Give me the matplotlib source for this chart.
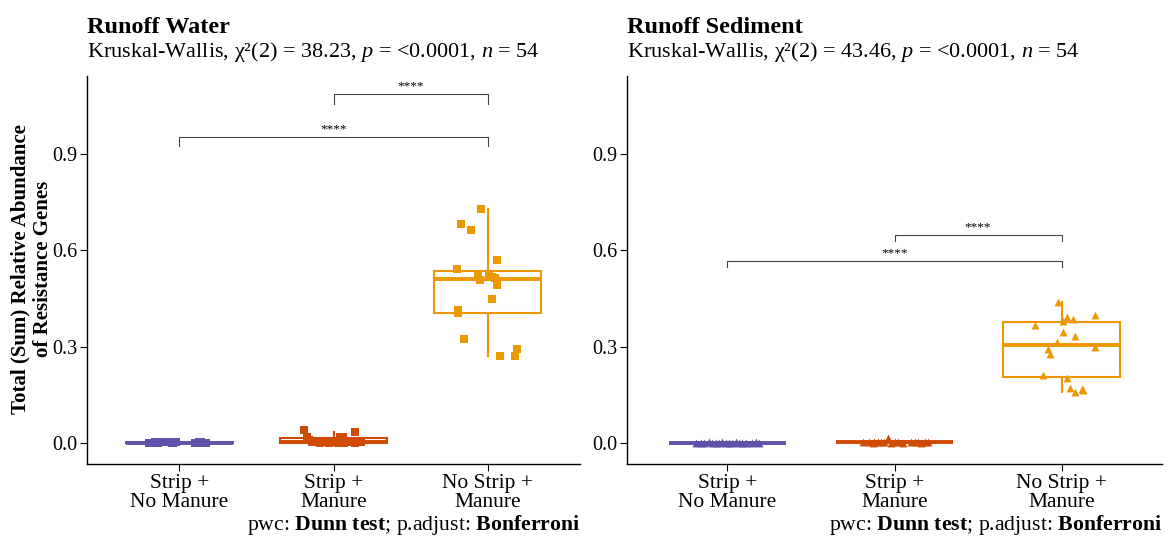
import numpy as np
import matplotlib
matplotlib.use("Agg")
from matplotlib import pyplot as plt

plt.rcParams["font.family"] = ["Liberation Serif", "DejaVu Serif"]
plt.rcParams["mathtext.fontset"] = "custom"
plt.rcParams["mathtext.rm"] = "Liberation Serif"
plt.rcParams["mathtext.it"] = "Liberation Serif:italic"
plt.rcParams["mathtext.bf"] = "Liberation Serif:bold"

groups = ["Strip +\nNo Manure", "Strip +\nManure", "No Strip +\nManure"]
colors = ["#6151a8", "#cf4a02", "#ec9800"]

# Runoff water, 18 samples per group
water_strip_nomanure = [0.000, 0.001, 0.002, 0.001, 0.003, 0.004, 0.002, 0.005, 0.001, 0.000,
                        0.002, 0.000, 0.001, 0.003, 0.002, 0.001, 0.000, 0.002]
water_strip_manure = [0.040, 0.035, 0.019, 0.018, 0.018, 0.010, 0.005, 0.004, 0.003, 0.003,
                      0.002, 0.002, 0.002, 0.001, 0.001, 0.001, 0.000, 0.000]
water_nostrip_manure = [0.730, 0.682, 0.662, 0.569, 0.541, 0.525, 0.520, 0.518, 0.515, 0.508,
                        0.492, 0.449, 0.414, 0.404, 0.324, 0.292, 0.271, 0.271]

# Runoff sediment
sed_strip_nomanure = [0.000, 0.001, 0.000, 0.002, 0.001, 0.000, 0.001, 0.002, 0.000, 0.001,
                      0.000, 0.002, 0.001, 0.000, 0.001, 0.000, 0.002, 0.001]
sed_strip_manure = [0.002, 0.004, 0.003, 0.015, 0.005, 0.002, 0.004, 0.001, 0.003, 0.002,
                    0.001, 0.003, 0.002, 0.004, 0.001, 0.002, 0.003, 0.001]
sed_nostrip_manure = [0.440, 0.393, 0.388, 0.400, 0.381, 0.367, 0.345, 0.334, 0.315, 0.298,
                      0.294, 0.278, 0.213, 0.203, 0.172, 0.160, 0.170, 0.165]

# horizontal jitter (category units)
jit_w1 = [-0.20, -0.19, -0.16, -0.14, -0.12, -0.10, -0.08, -0.07, -0.05, -0.04,
          -0.02, 0.10, 0.12, 0.13, 0.14, 0.15, 0.17, -0.11]
jit_w2 = [-0.19, 0.14, 0.06, 0.04, -0.17, -0.16, 0.12, 0.15, -0.14, -0.11,
          -0.06, -0.01, 0.18, -0.09, 0.07, 0.14, -0.03, 0.03]
jit_w3 = [-0.04, -0.17, -0.11, 0.06, -0.20, -0.06, 0.01, 0.03, 0.05, -0.05,
          0.06, 0.03, -0.19, -0.19, -0.15, 0.19, 0.08, 0.18]
jit_s1 = [-0.19, -0.16, -0.14, -0.11, -0.09, -0.07, -0.05, -0.03, -0.01, 0.01,
          0.03, 0.05, 0.07, 0.09, 0.11, 0.15, 0.17, 0.19]
jit_s2 = [-0.19, -0.15, -0.12, -0.04, -0.10, -0.08, -0.06, -0.02, 0.00, 0.02,
          0.05, 0.10, 0.12, 0.14, 0.16, 0.18, 0.20, -0.13]
jit_s3 = [-0.02, 0.03, 0.07, 0.20, 0.01, -0.16, 0.01, 0.08, -0.03, 0.20,
          -0.08, -0.07, -0.11, 0.03, 0.05, 0.08, 0.12, 0.13]

panels = [
    dict(title="Runoff Water",
         sub="Kruskal-Wallis, χ²(2) = 38.23, $p$ = <0.0001, $n$ = 54",
         data=[water_strip_nomanure, water_strip_manure, water_nostrip_manure],
         jit=[jit_w1, jit_w2, jit_w3], marker="s",
         brackets=[(1, 3, 0.954), (2, 3, 1.087)]),
    dict(title="Runoff Sediment",
         sub="Kruskal-Wallis, χ²(2) = 43.46, $p$ = <0.0001, $n$ = 54",
         data=[sed_strip_nomanure, sed_strip_manure, sed_nostrip_manure],
         jit=[jit_s1, jit_s2, jit_s3], marker="^",
         brackets=[(1, 3, 0.568), (2, 3, 0.648)]),
]

W, H = 1171, 536
fig = plt.figure(figsize=(W / 100, H / 100), dpi=100)
axes_px = [(87, 580), (627, 1162)]
top_px, bot_px = 76, 464

for p, (l, r) in zip(panels, axes_px):
    ax = fig.add_axes([l / W, 1 - bot_px / H, (r - l) / W, (bot_px - top_px) / H])
    pos = np.arange(1, 4)
    for i, vals in enumerate(p["data"]):
        ax.boxplot(vals, positions=[pos[i]], widths=0.7, showfliers=False, showcaps=False,
                   patch_artist=True,
                   boxprops=dict(facecolor="white", edgecolor=colors[i], linewidth=1.5),
                   whiskerprops=dict(color=colors[i], linewidth=1.5),
                   medianprops=dict(color=colors[i], linewidth=2.8))
        ax.scatter(pos[i] + np.array(p["jit"][i]), vals, marker=p["marker"], s=32,
                   color=colors[i], linewidths=0, zorder=3)
    for a, b, y in p["brackets"]:
        tip = 0.03 if p["marker"] == "s" else 0.02
        ax.plot([a, a, b, b], [y - tip, y, y, y - tip], color="#444444", lw=0.8)
        ax.text((a + b) / 2, y + 0.004, "****", ha="center", va="bottom", fontsize=9.5)
    ax.set_xlim(0.4, 3.6)
    ax.set_ylim(-0.065, 1.143)
    ax.set_yticks([0.0, 0.3, 0.6, 0.9])
    ax.set_yticklabels(["0.0", "0.3", "0.6", "0.9"], fontsize=14.5)
    ax.set_xticks(pos)
    ax.set_xticklabels(groups, fontsize=15.5, linespacing=1.0)
    ax.tick_params(length=5, width=0.8, color="black", pad=2)
    for s in ["top", "right"]:
        ax.spines[s].set_visible(False)
    for s in ["left", "bottom"]:
        ax.spines[s].set_linewidth(1.0)
    fig.text(l / W, 1 - 33 / H, p["title"], fontsize=17.5, fontweight="bold", va="baseline")
    fig.text(l / W, 1 - 57 / H, p["sub"], fontsize=16, va="baseline")
    fig.text(r / W, 1 - 530 / H, "pwc: $\\mathbf{Dunn\\ test}$; p.adjust: $\\mathbf{Bonferroni}$",
             fontsize=15.7, ha="right", va="baseline")

fig.text(32 / W, 1 - 269 / H, "Total (Sum) Relative Abundance\nof Resistance Genes",
         rotation=90, fontsize=15, fontweight="bold", ha="center", va="center",
         linespacing=1.2)

plt.savefig("out.png", dpi=100)
plt.close()
